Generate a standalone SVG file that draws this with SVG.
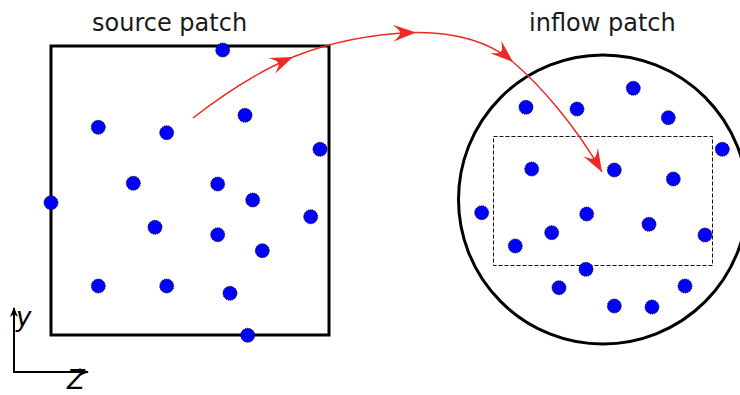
<svg xmlns="http://www.w3.org/2000/svg" width="740" height="395" viewBox="0 0 740 395">
  <style>
    .label { font-family: "DejaVu Sans", "Liberation Sans", sans-serif; font-size: 24px; fill: #1a1a1a; }
    .axis-label { font-family: "DejaVu Sans", "Liberation Sans", sans-serif; font-size: 26px; font-style: italic; fill: #000; }
    .patch { fill: none; stroke: #000; stroke-width: 3; }
    .window { fill: none; stroke: #111; stroke-width: 1; stroke-dasharray: 4 2; }
    .particle { fill: #0000ff; stroke: #000; stroke-width: 1; stroke-dasharray: 1 1; }
    .path { fill: none; stroke: #ee2a24; stroke-width: 1.5; marker-end: url(#dart); }
    .axis { fill: none; stroke: #000; stroke-width: 2; }
  </style>
  <defs>
    <marker id="dart" markerUnits="userSpaceOnUse" markerWidth="30" markerHeight="20" viewBox="-24 -10 26 20" refX="0" refY="0" orient="auto">
      <path d="M0,0 L-23,-8.5 Q-15,-2 -16,0 Q-15,2 -23,8.5 Z" fill="#ee2a24"/>
    </marker>
    <marker id="axhead" markerUnits="userSpaceOnUse" markerWidth="12" markerHeight="10" viewBox="-10 -5 12 10" refX="0" refY="0" orient="auto">
      <path d="M1,0 L-9,-4 L-6,0 L-9,4 Z" fill="#000"/>
    </marker>
  </defs>

  <!-- source patch -->
  <g id="source-patch">
    <rect class="patch" x="51" y="46" width="278" height="289"/>
    <text class="label" x="92" y="31">source patch</text>
  </g>

  <!-- inflow patch -->
  <g id="inflow-patch">
    <circle class="patch" cx="603" cy="199.5" r="144.5"/>
    <rect class="window" x="493.5" y="136.5" width="219" height="129"/>
    <text class="label" x="529" y="31">inflow patch</text>
  </g>

  <!-- particles in the source patch -->
  <g id="source-particles">
    <circle class="particle" cx="222.7" cy="50" r="7"/>
    <circle class="particle" cx="98.3" cy="127.3" r="7"/>
    <circle class="particle" cx="166.7" cy="132.7" r="7"/>
    <circle class="particle" cx="245" cy="115.3" r="7"/>
    <circle class="particle" cx="320" cy="149.3" r="7"/>
    <circle class="particle" cx="133.3" cy="183.3" r="7"/>
    <circle class="particle" cx="217.7" cy="184" r="7"/>
    <circle class="particle" cx="252.7" cy="200" r="7"/>
    <circle class="particle" cx="51" cy="202.7" r="7"/>
    <circle class="particle" cx="310.7" cy="216.7" r="7"/>
    <circle class="particle" cx="155" cy="227.3" r="7"/>
    <circle class="particle" cx="217.7" cy="234.7" r="7"/>
    <circle class="particle" cx="262.3" cy="250.7" r="7"/>
    <circle class="particle" cx="98.3" cy="286" r="7"/>
    <circle class="particle" cx="166.7" cy="286" r="7"/>
    <circle class="particle" cx="230" cy="293.3" r="7"/>
    <circle class="particle" cx="247.7" cy="335.3" r="7"/>
  </g>

  <!-- particles in the inflow patch -->
  <g id="inflow-particles">
    <circle class="particle" cx="526" cy="107.3" r="7"/>
    <circle class="particle" cx="577" cy="109" r="7"/>
    <circle class="particle" cx="633.3" cy="88.3" r="7"/>
    <circle class="particle" cx="668.3" cy="117.7" r="7"/>
    <circle class="particle" cx="722.3" cy="149.3" r="7"/>
    <circle class="particle" cx="531.7" cy="169" r="7"/>
    <circle class="particle" cx="614.3" cy="170" r="7"/>
    <circle class="particle" cx="673.3" cy="179" r="7"/>
    <circle class="particle" cx="481.7" cy="212.7" r="7"/>
    <circle class="particle" cx="586.7" cy="214" r="7"/>
    <circle class="particle" cx="649" cy="224.3" r="7"/>
    <circle class="particle" cx="551.7" cy="232.7" r="7"/>
    <circle class="particle" cx="705" cy="235" r="7"/>
    <circle class="particle" cx="515.3" cy="246" r="7"/>
    <circle class="particle" cx="586" cy="269.3" r="7"/>
    <circle class="particle" cx="559" cy="287.7" r="7"/>
    <circle class="particle" cx="614.3" cy="306" r="7"/>
    <circle class="particle" cx="652" cy="307" r="7"/>
    <circle class="particle" cx="685" cy="286" r="7"/>
  </g>

  <!-- particle trajectory from source to inflow -->
  <g id="connectors">
    <path class="path" d="M193,118 C220,97 255,73 293,57"/>
    <path class="path" d="M293,57 C330,42 370,34 416,32.5"/>
    <path class="path" d="M416,32.5 C455,32 490,42 513,62"/>
    <path class="path" d="M513,62 C540,85 575,125 602,172"/>
  </g>

  <!-- coordinate axes -->
  <g id="axes">
    <path class="axis" d="M14,372 L14,308" marker-end="url(#axhead)"/>
    <path class="axis" d="M13,372 L88,372" marker-end="url(#axhead)"/>
    <text class="axis-label" x="16" y="326">y</text>
    <text class="axis-label" x="67" y="389" font-size="22">Z</text>
  </g>
</svg>
